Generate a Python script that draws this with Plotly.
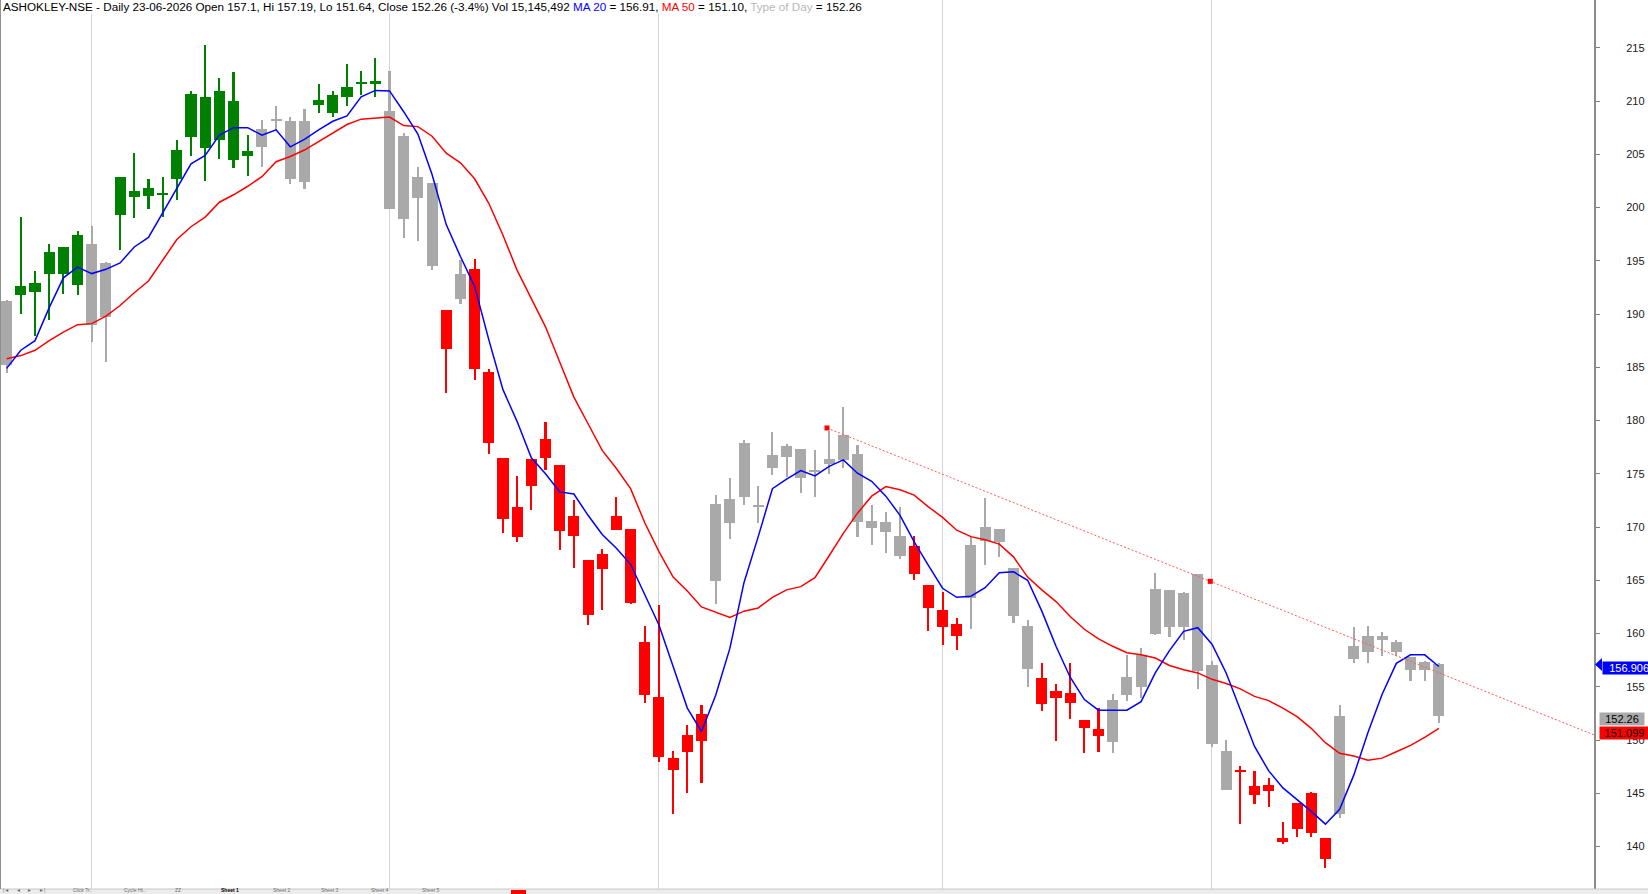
import plotly.graph_objects as go

# ---------------- data ----------------
title_text = ("ASHOKLEY-NSE - Daily 23-06-2026 Open 157.1, Hi 157.19, Lo 151.64, "
              "Close 152.26 (-3.4%) Vol 15,145,492 ")

open_ = [191.2, 191.8, 192.1, 193.8, 193.8, 192.7, 196.6, 194.8, 199.3, 201.0,
         201.1, 201.2, 202.7, 206.6, 205.6, 206.3, 204.5, 204.8, 207.4, 208.3,
         208.1, 202.4, 209.6, 208.9, 210.4, 211.6, 211.6, 209.1, 206.7, 202.9,
         202.3, 190.4, 191.4, 194.2, 184.6, 176.5, 171.9, 176.4, 178.3, 175.8,
         171.0, 166.9, 167.5, 171.0, 169.8, 159.2, 154.0, 148.3, 150.5, 152.4,
         164.9, 170.4, 172.8, 172.0, 175.5, 176.6, 177.3, 175.3, 175.9, 176.3,
         176.9, 170.6, 170.5, 169.2, 168.2, 164.6, 162.2, 160.9, 163.3, 168.7,
         169.8, 166.2, 160.7, 155.8, 154.6, 154.4, 151.9, 151.0, 149.8, 154.2,
         155.0, 160.0, 164.1, 160.6, 165.6, 157.0, 149.0, 147.1, 145.7, 145.8,
         140.8, 144.1, 145.0, 140.8, 143.1, 157.6, 158.3, 159.4, 159.2, 157.8,
         156.6, 157.1]

high = [191.3, 199.1, 194.0, 196.6, 196.3, 197.8, 198.3, 194.9, 202.9, 205.1,
        202.7, 202.9, 206.3, 210.9, 215.3, 212.2, 212.7, 206.8, 208.2, 209.5,
        208.5, 209.3, 211.6, 210.9, 213.5, 212.8, 214.0, 212.8, 207.0, 203.8,
        202.3, 190.4, 195.1, 195.2, 184.8, 176.5, 174.8, 176.4, 179.9, 175.8,
        172.5, 166.9, 167.9, 172.8, 169.8, 160.7, 162.7, 149.0, 151.4, 153.3,
        173.0, 174.6, 178.2, 173.9, 178.9, 177.8, 177.3, 177.2, 179.0, 181.3,
        177.7, 172.1, 171.4, 171.9, 169.2, 164.6, 163.9, 161.5, 169.1, 172.7,
        169.8, 166.2, 161.3, 157.2, 155.3, 157.2, 151.9, 153.0, 154.3, 158.0,
        158.6, 165.7, 164.1, 163.9, 165.6, 157.4, 150.0, 147.6, 147.1, 146.4,
        142.3, 144.1, 145.1, 140.8, 153.3, 160.6, 160.7, 160.1, 159.4, 157.8,
        157.4, 157.19]

low = [184.5, 190.0, 187.9, 189.4, 191.9, 191.8, 187.4, 185.5, 196.0, 199.0,
       199.9, 199.1, 200.7, 204.8, 202.5, 204.6, 203.7, 203.0, 203.8, 207.2,
       202.2, 201.7, 208.9, 208.5, 209.5, 210.6, 210.4, 199.9, 197.1, 196.9,
       194.1, 182.6, 190.9, 183.8, 176.9, 169.4, 168.6, 171.6, 175.4, 167.8,
       166.2, 160.8, 162.2, 169.7, 162.8, 153.5, 147.9, 143.1, 145.0, 146.0,
       162.8, 168.9, 172.1, 170.4, 174.9, 174.7, 173.2, 172.8, 175.0, 175.5,
       169.1, 168.3, 167.6, 167.0, 165.0, 160.2, 158.9, 158.5, 160.4, 166.4,
       167.2, 161.0, 155.0, 152.7, 149.9, 152.0, 148.8, 148.9, 148.8, 153.7,
       153.9, 159.9, 159.7, 159.4, 154.8, 149.3, 145.3, 142.1, 144.0, 143.7,
       140.2, 140.9, 140.9, 138.0, 142.7, 157.2, 157.2, 157.9, 157.9, 155.5,
       155.5, 151.64]

close = [185.2, 192.6, 192.9, 195.8, 196.3, 197.4, 189.0, 189.7, 202.9, 201.6,
         201.8, 201.4, 205.4, 210.7, 210.4, 210.9, 210.0, 205.3, 205.7, 208.1,
         202.7, 208.1, 210.1, 210.6, 211.3, 211.8, 211.85, 199.9, 198.9, 200.9,
         194.5, 186.7, 193.8, 184.8, 177.9, 170.8, 169.1, 173.9, 176.5, 169.6,
         169.2, 161.7, 166.1, 169.7, 162.9, 154.2, 148.4, 147.2, 148.9, 149.9,
         172.2, 172.6, 177.9, 171.9, 176.8, 177.6, 174.6, 175.2, 176.4, 178.6,
         170.5, 169.9, 169.5, 167.3, 165.6, 162.4, 160.6, 159.8, 168.3, 170.0,
         168.6, 161.6, 156.7, 153.4, 153.9, 153.5, 151.1, 150.4, 153.8, 155.9,
         158.0, 164.2, 160.6, 163.8, 156.5, 149.6, 145.3, 147.0, 144.8, 145.2,
         140.45, 141.6, 141.3, 138.8, 152.3, 158.8, 159.8, 159.8, 158.3, 156.6,
         157.3, 152.26]

# Type of day: G = up-trend day, R = down-trend day, N = neutral
day_type = list("N" + "GGGGG" + "NN" + "GGGGGGGGGG" + "NNNN" + "GGGGG" + "NNNN" + "R" + "N"
                + "RRRRRRRRRRRRRRRRR" + "NNNNNNNNNNNNNN" + "RRRR" + "NNNNN" + "RRRRR"
                + "NNNNNNNNN" + "RRRRRRR" + "NNNNNNNN")

ma20 = [184.9, 186.6, 187.5, 190.6, 193.4, 194.4, 193.8, 194.2, 194.8, 196.3,
        197.2, 199.5, 201.8, 204.1, 204.9, 206.8, 207.5, 207.5, 206.8, 207.3,
        205.7, 206.4, 207.3, 208.1, 208.6, 210.4, 211.0, 210.95, 209.0, 206.9,
        203.1, 198.4, 195.4, 192.6, 187.6, 182.9, 179.9, 176.5, 175.0, 173.3,
        173.1, 171.1, 169.3, 168.0, 166.5, 163.6, 160.8, 156.9, 153.0, 150.8,
        154.2, 158.6, 164.8, 169.1, 173.6, 174.5, 175.3, 174.8, 175.7, 176.3,
        175.05, 174.3, 172.9, 171.1, 168.6, 166.4, 164.25, 163.4, 163.5, 164.3,
        165.7, 165.8, 165.0, 162.1, 158.8, 155.9, 153.8, 152.8, 152.8, 152.8,
        153.6, 156.3, 158.4, 160.2, 160.55, 159.0, 156.3, 152.8, 149.4, 147.1,
        145.5, 144.4, 143.3, 142.1, 143.5, 146.7, 150.7, 154.3, 157.2, 158.0,
        158.0, 156.906]

ma50 = [185.8, 186.1, 186.6, 187.5, 188.3, 189.0, 189.1, 189.8, 190.8, 192.0,
        193.1, 195.1, 197.0, 198.2, 199.1, 200.5, 201.2, 202.0, 202.9, 204.3,
        204.8, 205.4, 206.2, 207.0, 207.8, 208.3, 208.4, 208.5, 207.7, 207.6,
        206.7, 205.1, 204.2, 202.7, 200.4, 197.4, 194.1, 191.4, 188.8, 185.5,
        182.2, 179.7, 177.2, 175.5, 173.6, 170.4, 167.7, 165.3, 164.0, 162.5,
        162.0, 161.5, 162.1, 162.4, 163.4, 164.1, 164.4, 165.25, 167.3, 169.4,
        171.3, 172.9, 173.8, 173.5, 173.0, 171.9, 170.9, 169.7, 169.1, 168.8,
        168.4, 167.2, 165.3, 164.1, 163.0, 161.6, 160.4, 159.5, 158.8, 158.2,
        158.0, 157.7, 157.0, 156.6, 156.3, 155.7, 155.3, 154.8, 154.1, 153.7,
        153.0, 152.2, 151.1, 149.75, 148.75, 148.5, 148.1, 148.3, 148.9, 149.5,
        150.25, 151.099]

month_start_idx = [6, 27, 46, 66, 85]      # Feb, Mar, Apr, May, Jun 2026
trend_x = [57.85, 84.88]                   # trendline anchors (bar index)
trend_y = [179.3, 164.9]                   # trendline anchors (price)
y_ticks = list(range(140, 216, 5))
sheet_tabs = ["|◄", "◄", "►", "►|", "Click Tr..", "Cycle Ht..", "ZZ", "Sheet 1",
              "Sheet 2", "Sheet 3", "Sheet 4", "Sheet 5"]

# ---------------- styling ----------------
W, H = 1648, 894
M_L, M_R, M_T, M_B = 0, 54, 0, 5
X_RANGE = [-0.47, 111.94]
Y_RANGE = [136.01, 219.49]
FONT = "Liberation Sans, Arial, sans-serif"
type_colors = {"G": "#008000", "R": "#ff0000", "N": "#a9a9a9"}
tab_px = [6, 18, 30, 42, 82, 135, 178, 230, 282, 330, 380, 430]

n = len(close)
xs = list(range(n))
cols = [type_colors[t] for t in day_type]
body_lo = [min(o, c) for o, c in zip(open_, close)]
body_h = [max(abs(o - c), 0.2) for o, c in zip(open_, close)]
wick_h = [h - l for h, l in zip(high, low)]

fig = go.Figure()

# wicks
fig.add_trace(go.Bar(x=xs, y=wick_h, base=low, width=0.15,
                     marker=dict(color=cols, line=dict(width=0)),
                     hoverinfo="skip", showlegend=False))
# bodies
fig.add_trace(go.Bar(x=xs, y=body_h, base=body_lo, width=0.78,
                     marker=dict(color=cols, line=dict(width=0)),
                     hoverinfo="skip", showlegend=False))

# moving averages
fig.add_trace(go.Scatter(x=xs, y=ma50, mode="lines",
                         line=dict(color="#ff0000", width=1.5), showlegend=False))
fig.add_trace(go.Scatter(x=xs, y=ma20, mode="lines",
                         line=dict(color="#0000ff", width=1.5), showlegend=False))

# trendline (extended to right edge)
slope = (trend_y[1] - trend_y[0]) / (trend_x[1] - trend_x[0])
x_end = X_RANGE[1]
fig.add_trace(go.Scatter(x=[trend_x[0], x_end],
                         y=[trend_y[0], trend_y[0] + slope * (x_end - trend_x[0])],
                         mode="lines", line=dict(color="#ff5a5a", width=1, dash="2px,2px"),
                         showlegend=False))
fig.add_trace(go.Scatter(x=trend_x, y=trend_y, mode="markers",
                         marker=dict(symbol="square", size=5, color="#ff0000"),
                         showlegend=False))

plot_w = W - M_L - M_R
plot_h = H - M_T - M_B
px = 1.0 / plot_w  # one pixel in paper units (x)
py = 1.0 / plot_h  # one pixel in paper units (y)
y_per_px = (Y_RANGE[1] - Y_RANGE[0]) / plot_h

annotations = []
# title
annotations.append(dict(
    xref="paper", yref="paper", x=0, y=1, xanchor="left", yanchor="top",
    xshift=2, yshift=1, showarrow=False, bgcolor="white", borderpad=0,
    font=dict(family=FONT, size=11.7, color="#000000"),
    text=(title_text
          + "<span style='color:#0000ff'>MA 20</span> = %.2f, " % ma20[-1]
          + "<span style='color:#ff0000'>MA 50</span> = %.2f, " % ma50[-1]
          + "<span style='color:#b8b8b8'>Type of Day</span> = %.2f" % close[-1])))

# right-side value labels
BLUE_SHIFT = -2
annotations.append(dict(xref="paper", yref="y", x=1, y=ma20[-1], xanchor="left",
                        yanchor="middle", xshift=8, yshift=BLUE_SHIFT, showarrow=False,
                        bgcolor="#0000ff", borderpad=0, width=46, height=12, align="right",
                        font=dict(family=FONT, size=11, color="white"),
                        text="%.3f" % ma20[-1]))
annotations.append(dict(xref="paper", yref="y", x=1, y=close[-1], xanchor="left",
                        yanchor="middle", xshift=5, yshift=-3, showarrow=False,
                        bgcolor="#a9a9a9", borderpad=0, width=44, height=12,
                        align="center", font=dict(family=FONT, size=11, color="#000000"),
                        text="%.2f" % close[-1]))
annotations.append(dict(xref="paper", yref="y", x=1, y=ma50[-1], xanchor="left",
                        yanchor="middle", xshift=5, yshift=-5, showarrow=False,
                        bgcolor="#ff0000", borderpad=0, width=49, height=12,
                        align="center", font=dict(family=FONT, size=11, color="#000000"),
                        text="%.3f" % ma50[-1]))

# bottom sheet tabs (tiny, inside the strip)
for t, tx in zip(sheet_tabs, tab_px):
    annotations.append(dict(xref="paper", yref="paper", x=tx * px, y=-M_B * py,
                            xanchor="center", yanchor="bottom", showarrow=False,
                            borderpad=0,
                            font=dict(family=FONT, size=5,
                                      color="#000000" if t == "Sheet 1" else "#707070"),
                            text="<b>%s</b>" % t if t == "Sheet 1" else t))

blue_y = ma20[-1] - BLUE_SHIFT * y_per_px
shapes = [
    # bottom tab strip
    dict(type="rect", xref="paper", yref="paper", x0=0, x1=W * px, y0=-M_B * py, y1=0,
         fillcolor="#ececec", line=dict(width=0), layer="below"),
    dict(type="line", xref="paper", yref="paper", x0=0, x1=W * px, y0=0, y1=0,
         line=dict(color="#c8c8c8", width=1)),
    dict(type="rect", xref="paper", yref="paper", x0=511 * px, x1=526 * px,
         y0=-M_B * py, y1=-1 * py, fillcolor="#ff0000", line=dict(width=0)),
    # left border
    dict(type="line", xref="paper", yref="paper", x0=0.5 * px, x1=0.5 * px, y0=0, y1=1,
         line=dict(color="#909090", width=1)),
    # arrow of the MA20 value label
    dict(type="path", xref="paper", yref="y",
         path="M %f,%f L %f,%f L %f,%f Z" % (
             1 + 1 * px, blue_y,
             1 + 8 * px, blue_y + 6.5 * y_per_px,
             1 + 8 * px, blue_y - 6.5 * y_per_px),
         fillcolor="#0000ff", line=dict(width=0)),
]

fig.update_layout(
    width=W, height=H,
    margin=dict(l=M_L, r=M_R, t=M_T, b=M_B, pad=0),
    paper_bgcolor="white", plot_bgcolor="white",
    barmode="overlay", bargap=0, showlegend=False,
    xaxis=dict(range=X_RANGE, tickvals=month_start_idx, showticklabels=False,
               ticks="", showgrid=True, gridcolor="#d4d4d4", gridwidth=1,
               zeroline=False, showline=False, fixedrange=True),
    yaxis=dict(range=Y_RANGE, side="right", tickvals=y_ticks,
               ticktext=[str(v) for v in y_ticks], ticks="outside", ticklen=4,
               tickcolor="#808080", tickwidth=1, showline=True, linecolor="#8c8c8c",
               linewidth=2, showgrid=False, zeroline=False, ticklabelstandoff=24,
               tickfont=dict(family=FONT, size=11, color="#202020")),
    annotations=annotations, shapes=shapes,
    font=dict(family=FONT),
)

fig.write_html("out.html")
